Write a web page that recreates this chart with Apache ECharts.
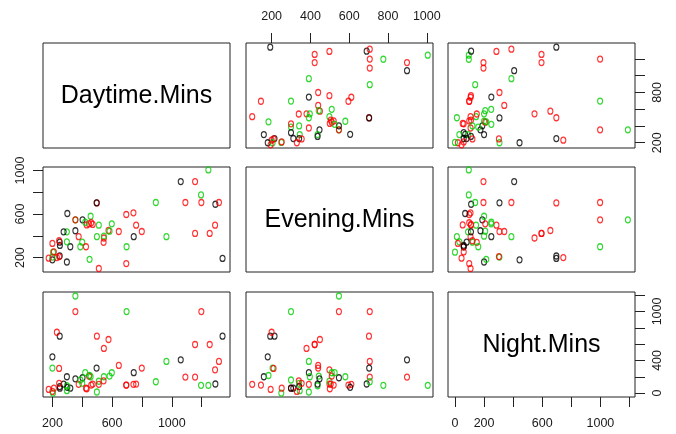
<!DOCTYPE html>
<html><head><meta charset="utf-8">
<script src="https://cdn.jsdelivr.net/npm/echarts@6/dist/echarts.min.js"></script>
<style>html,body{margin:0;padding:0;background:#fff}#c{width:676px;height:434px}</style>
</head><body><div id="c"></div>
<script>
// ---- data ----
const varNames = ['Daytime.Mins', 'Evening.Mins', 'Night.Mins'];
const daytime = [1245,1060,1156,1156,1254,1196,1091,1198,1292,1316,1290,893,964,1340,695,743,695,645,799,761,745,354,354,697,249,230,498,496,576,545,200,200,245,297,511,598,583,545,498,543,402,456,300,354,430,445,460,470,420,376,400,387,425,320,297,297,249,275,250,200,245,204,175,449,511,210];
const evening = [1005,898,898,422,422,776,706,706,690,706,498,706,392,193,596,611,145,440,440,498,392,547,547,300,215,200,702,703,449,380,180,205,210,160,498,510,443,397,392,340,547,580,605,447,500,510,520,505,525,392,342,300,300,300,437,345,342,437,312,330,355,250,195,184,100,252];
const night   = [95,407,196,595,595,95,196,998,111,388,285,139,388,697,98,107,98,339,306,110,250,1189,998,998,697,745,697,306,656,547,444,306,302,200,145,249,208,200,13,150,188,200,70,175,53,208,98,110,250,107,120,160,60,60,90,30,80,110,60,20,120,0,45,215,107,60];
// group codes: 1 = black, 2 = red, 3 = green
const group   = [3,1,2,2,2,3,2,2,1,2,2,3,3,1,2,2,2,2,2,2,1,3,2,3,1,2,2,1,2,2,1,3,2,1,3,3,3,3,3,2,1,3,1,1,2,2,2,2,3,2,3,3,2,1,3,3,1,1,1,2,2,3,2,3,2,2];

const dayTicks = [200,400,600,800,1000,1200];
const dayLabelsBottom = [200,600,1000];
const dayLabelsRight = [200,800];
const eveTicks = [200,400,600,800,1000];
const eveLabelsTop = [200,400,600,800,1000];
const eveLabelsLeft = [200,600,1000];
const nightTicks = [0,200,400,600,800,1000,1200];
const nightLabelsBottom = [0,200,600,1000];
const nightLabelsRight = [0,400,1000];

// ---- layout / style ----
const vars = [daytime, evening, night];
const ranges = [[137,1390],[68,1032],[-48,1238]];
const ticks = [dayTicks, eveTicks, nightTicks];
const colLeft = [43, 246, 448], rowTop = [43, 167, 292], W = 187, H = 105;
const palette = {1:'#000000', 2:'#FF0000', 3:'#00CD00'};
const font = 'Liberation Sans, Arial, Helvetica, sans-serif';
const txt = '#1a1a1a';

const xAxisSpec = {
  '2,0': {pos:'bottom', labels: dayLabelsBottom},
  '0,1': {pos:'top', labels: eveLabelsTop},
  '2,2': {pos:'bottom', labels: nightLabelsBottom}
};
const yAxisSpec = {
  '1,0': {pos:'left', labels: eveLabelsLeft},
  '0,2': {pos:'right', labels: dayLabelsRight},
  '2,2': {pos:'right', labels: nightLabelsRight}
};

const grid = [], xAxis = [], yAxis = [], series = [], graphic = [];
let k = 0;
for (let i = 0; i < 3; i++) {
  for (let j = 0; j < 3; j++) {
    grid.push({left: colLeft[j], top: rowTop[i], width: W, height: H,
      show: true, borderColor: '#222', borderWidth: 1, backgroundColor: 'transparent'});
    const xs = xAxisSpec[i + ',' + j];
    const ys = yAxisSpec[i + ',' + j];
    xAxis.push({
      type: 'value', gridIndex: k, min: ranges[j][0], max: ranges[j][1],
      position: xs ? xs.pos : 'bottom', show: !!xs,
      axisLine: {show: false, onZero: false}, splitLine: {show: false},
      axisTick: {show: !!xs, length: 10, customValues: ticks[j], lineStyle: {color: '#222', width: 1}},
      axisLabel: {show: !!xs, customValues: xs ? xs.labels : [], margin: 20,
        formatter: v => String(v),
        fontSize: 12.5, fontFamily: font, color: txt, hideOverlap: false}
    });
    yAxis.push({
      type: 'value', gridIndex: k, min: ranges[i][0], max: ranges[i][1],
      position: ys ? ys.pos : 'left', show: !!ys,
      axisLine: {show: false, onZero: false}, splitLine: {show: false},
      axisTick: {show: !!ys, length: 10, customValues: ticks[i], lineStyle: {color: '#222', width: 1}},
      axisLabel: {show: !!ys, customValues: ys ? ys.labels : [], margin: 16, rotate: 90,
        formatter: v => String(v),
        fontSize: 12.5, fontFamily: font, color: txt, hideOverlap: false}
    });
    if (i === j) {
      graphic.push({type: 'text',
        style: {text: varNames[i], fontSize: 25, fontFamily: font, fill: '#000',
          align: 'center', verticalAlign: 'middle'},
        x: colLeft[j] + W / 2, y: rowTop[i] + H / 2 + 1});
    } else {
      const xv = vars[j], yv = vars[i];
      series.push({
        type: 'scatter', xAxisIndex: k, yAxisIndex: k, silent: true,
        symbol: 'circle', symbolSize: [5, 6],
        data: xv.map((v, n) => ({value: [v, yv[n]],
          itemStyle: {color: 'rgba(0,0,0,0)', borderColor: palette[group[n]], borderWidth: 1.2}}))
      });
    }
    k++;
  }
}

const chart = echarts.init(document.getElementById('c'), null, {renderer: 'canvas'});
chart.setOption({animation: false, backgroundColor: '#fff', grid, xAxis, yAxis, series, graphic});
</script></body></html>
